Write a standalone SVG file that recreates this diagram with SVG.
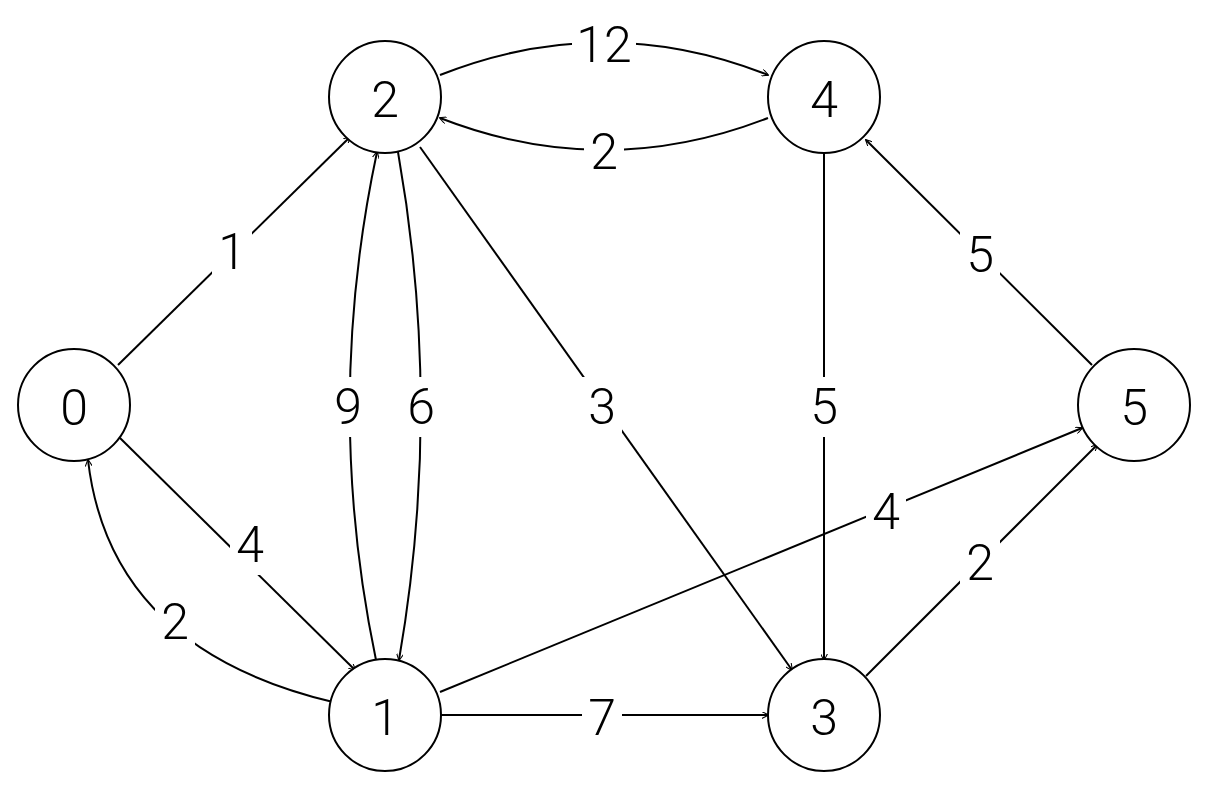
<svg xmlns="http://www.w3.org/2000/svg" width="1217" height="792" viewBox="0 0 1217 792">
<style>
.n{fill:#fff;stroke:#000;stroke-width:2}
.e{fill:none;stroke:#000;stroke-width:2;marker-end:url(#a)}
text{font-family:Roboto,"Liberation Sans",sans-serif;font-weight:300;font-size:50px;text-anchor:middle;dominant-baseline:central}
.lb{fill:#fff}
</style>
<defs><marker id="a" viewBox="0 0 10 10" refX="9" refY="5" markerWidth="7" markerHeight="7" orient="auto" markerUnits="userSpaceOnUse"><path d="M0,0 L10,5 L0,10" fill="none" stroke="#000" stroke-width="1.5"/></marker></defs>
<rect width="1217" height="792" fill="#fff"/>
<g id="connectors">
<path class="e" d="M118,365 L350,137"/>
<path class="e" d="M120,438 L355,670"/>
<path class="e" d="M333,702 Q110,649 88,460"/>
<path class="e" d="M376,660 Q323,406 377,152"/>
<path class="e" d="M398,152 Q443,406 399,660"/>
<path class="e" d="M420,147 L792,670"/>
<path class="e" d="M440,75 Q604,10 768,75"/>
<path class="e" d="M768,118 Q604,182 440,118"/>
<path class="e" d="M824,152 L824,660"/>
<path class="e" d="M1092,365 L866,140"/>
<path class="e" d="M440,692 L1082,428"/>
<path class="e" d="M866,676 L1097,445"/>
<path class="e" d="M440,715 L768,715"/>
<g class="lb">
<rect x="212" y="222" width="40" height="60"/><rect x="230" y="515" width="40" height="60"/><rect x="155" y="592" width="40" height="60"/>
<rect x="328" y="377" width="40" height="60"/><rect x="401" y="377" width="40" height="60"/><rect x="582" y="377" width="40" height="60"/>
<rect x="572" y="15" width="64" height="60"/><rect x="584" y="122" width="40" height="60"/><rect x="804" y="377" width="40" height="60"/>
<rect x="960" y="225" width="40" height="60"/><rect x="866" y="482" width="40" height="60"/><rect x="960" y="533" width="40" height="60"/>
<rect x="582" y="688" width="40" height="60"/>
</g>
</g>
<g id="labels">
<text x="232" y="252">1</text><text x="250" y="545">4</text><text x="175" y="622">2</text>
<text x="348" y="407">9</text><text x="421" y="407">6</text><text x="602" y="407">3</text>
<text x="604" y="45">12</text><text x="604" y="152">2</text><text x="824" y="407">5</text>
<text x="980" y="255">5</text><text x="886" y="512">4</text><text x="980" y="563">2</text>
<text x="602" y="718">7</text>
</g>
<g id="node0"><circle class="n" cx="74" cy="405" r="56"/><text x="74" y="408">0</text></g>
<g id="node1"><circle class="n" cx="385" cy="715" r="56"/><text x="385" y="718">1</text></g>
<g id="node2"><circle class="n" cx="385" cy="97" r="56"/><text x="385" y="100">2</text></g>
<g id="node3"><circle class="n" cx="824" cy="715" r="56"/><text x="824" y="718">3</text></g>
<g id="node4"><circle class="n" cx="824" cy="97" r="56"/><text x="824" y="100">4</text></g>
<g id="node5"><circle class="n" cx="1134" cy="405" r="56"/><text x="1134" y="408">5</text></g>
</svg>
